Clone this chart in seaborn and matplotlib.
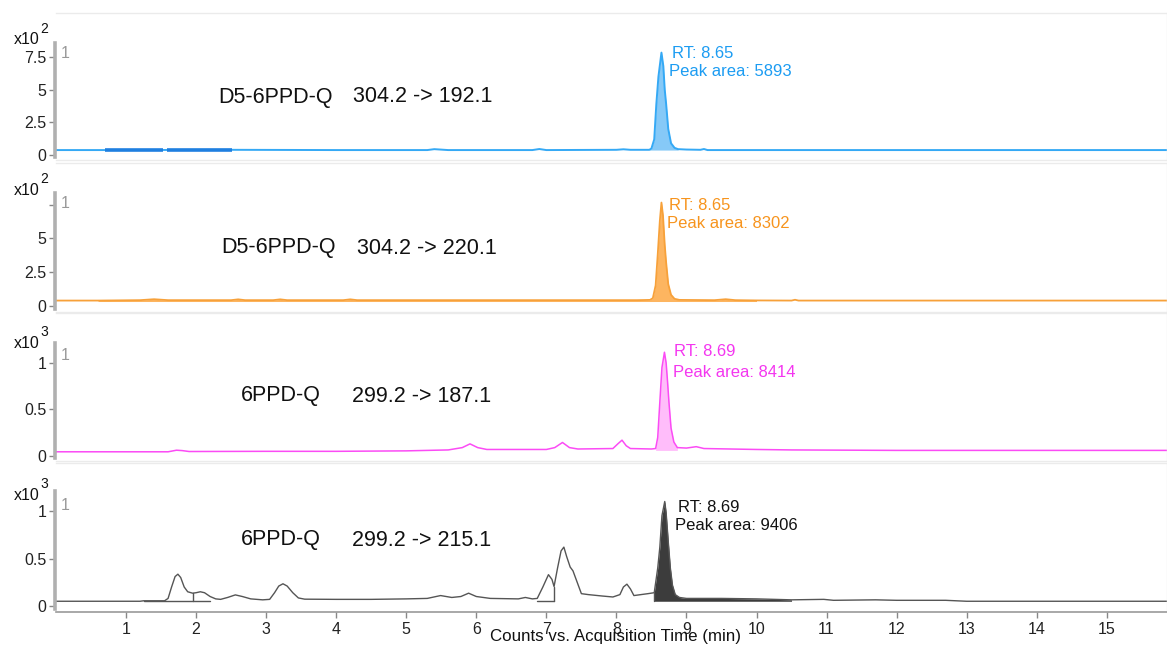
import matplotlib
matplotlib.use("Agg")
import matplotlib.pyplot as plt
import seaborn as sns
import numpy as np

# ---------------- data ----------------
x_ticks = list(range(1, 16))

# Panel 1: D5-6PPD-Q 304.2 -> 192.1 (x10^2 counts)
blue_t = [0.0, 1.0, 2.5, 4.0, 5.3, 5.4, 5.6, 6.8, 6.9, 7.0, 8.0, 8.1, 8.2, 8.40, 8.47, 8.50, 8.54, 8.57,
          8.60, 8.643, 8.67, 8.69, 8.71, 8.74, 8.78, 8.83, 8.88, 9.0, 9.2, 9.25, 9.3, 10.0, 12.0, 15.87]
blue_y = [0.38, 0.38, 0.40, 0.38, 0.38, 0.45, 0.38, 0.38, 0.46, 0.38, 0.40, 0.44, 0.40, 0.40, 0.40, 0.5, 1.2, 3.9,
          6.0, 7.84, 6.8, 5.0, 3.9, 2.0, 0.9, 0.55, 0.45, 0.42, 0.40, 0.46, 0.38, 0.38, 0.38, 0.38]
blue_marks = [(0.70, 1.53), (1.59, 2.51)]

# Panel 2: D5-6PPD-Q 304.2 -> 220.1 (x10^2 counts)
orange_t = [0.0, 0.6, 1.2, 1.4, 1.6, 2.5, 2.6, 2.7, 3.1, 3.2, 3.3, 4.1, 4.2, 4.3, 5.0, 6.0, 7.0, 8.0, 8.3, 8.48,
            8.52, 8.56, 8.59, 8.62, 8.643, 8.665, 8.69, 8.71, 8.74, 8.78, 8.83, 8.9, 9.4, 9.56, 9.7, 10.0,
            10.5, 10.55, 10.6, 12.0, 15.87]
orange_y = [0.37, 0.37, 0.40, 0.47, 0.40, 0.40, 0.46, 0.40, 0.40, 0.46, 0.40, 0.40, 0.46, 0.40, 0.40, 0.40, 0.40,
            0.40, 0.40, 0.42, 0.55, 1.5, 3.8, 6.3, 7.66, 6.7, 4.5, 3.2, 1.6, 0.8, 0.5, 0.42, 0.40, 0.47, 0.40,
            0.38, 0.37, 0.43, 0.37, 0.37, 0.37]

# Panel 3: 6PPD-Q 299.2 -> 187.1 (x10^3 counts)
mag_t = [0.0, 1.6, 1.72, 1.8, 1.9, 3.0, 4.0, 5.0, 5.6, 5.8, 5.91, 6.02, 6.15, 7.0, 7.12, 7.23, 7.33, 7.45, 7.95,
         8.02, 8.08, 8.14, 8.2, 8.5, 8.56, 8.59, 8.62, 8.65, 8.686, 8.71, 8.73, 8.75, 8.78, 8.82, 8.87, 9.0,
         9.14, 9.25, 10.0, 10.5, 12.0, 15.87]
mag_y = [0.045, 0.045, 0.062, 0.058, 0.048, 0.05, 0.05, 0.055, 0.065, 0.09, 0.13, 0.09, 0.07, 0.07, 0.09, 0.145,
         0.09, 0.075, 0.08, 0.13, 0.17, 0.11, 0.08, 0.075, 0.08, 0.2, 0.58, 0.95, 1.115, 1.0, 0.8, 0.58, 0.3,
         0.15, 0.09, 0.085, 0.10, 0.08, 0.07, 0.065, 0.06, 0.06]

# Panel 4: 6PPD-Q 299.2 -> 215.1 (x10^3 counts)
blk_t = [0.0, 1.2, 1.25, 1.55, 1.60, 1.65, 1.70, 1.74, 1.78, 1.83, 1.88, 1.95, 2.0, 2.06, 2.12, 2.2, 2.28, 2.35,
         2.45, 2.56, 2.66, 2.78, 2.95, 3.05, 3.12, 3.18, 3.24, 3.30, 3.38, 3.46, 3.55, 4.0, 4.5, 5.0, 5.3,
         5.49, 5.65, 5.78, 5.89, 6.0, 6.2, 6.6, 6.7, 6.8, 6.87, 6.95, 7.03, 7.08, 7.11, 7.16, 7.21, 7.25,
         7.29, 7.34, 7.38, 7.44, 7.5, 7.6, 7.8, 7.95, 8.05, 8.1, 8.15, 8.2, 8.25, 8.35, 8.45, 8.54, 8.59,
         8.62, 8.65, 8.69, 8.71, 8.74, 8.77, 8.80, 8.84, 8.9, 9.0, 9.5, 10.0, 10.5, 10.96, 11.1, 11.7, 12.0,
         12.7, 13.0, 15.87]
blk_y = [0.05, 0.05, 0.055, 0.055, 0.08, 0.2, 0.31, 0.335, 0.3, 0.2, 0.15, 0.135, 0.14, 0.15, 0.14, 0.1, 0.075,
         0.07, 0.09, 0.117, 0.1, 0.075, 0.065, 0.07, 0.14, 0.21, 0.234, 0.21, 0.14, 0.085, 0.072, 0.07, 0.07,
         0.075, 0.08, 0.11, 0.09, 0.10, 0.135, 0.10, 0.08, 0.075, 0.09, 0.075, 0.08, 0.2, 0.33, 0.28, 0.205,
         0.4, 0.58, 0.62, 0.52, 0.41, 0.37, 0.25, 0.13, 0.12, 0.105, 0.095, 0.12, 0.2, 0.23, 0.18, 0.11,
         0.12, 0.13, 0.14, 0.4, 0.62, 0.95, 1.10, 0.98, 0.68, 0.4, 0.22, 0.12, 0.09, 0.08, 0.08, 0.075,
         0.065, 0.07, 0.06, 0.065, 0.06, 0.06, 0.05, 0.05]
blk_drops = [(1.95, 0.135), (7.11, 0.205), (8.54, 0.14)]

# ---------------- style ----------------
sns.set_theme(style="white")
plt.rcParams["font.family"] = ["Liberation Sans", "DejaVu Sans"]

W, H = 1167, 645
fig = plt.figure(figsize=(W / 100, H / 100), dpi=100)

def frac_box(top_px, bot_px, left_px=56, right_px=1167):
    return [left_px / W, 1 - bot_px / H, (right_px - left_px) / W, (bot_px - top_px) / H]

panels = [
    dict(box=(13, 160), ylim=(-0.38, 10.87), yt=[0, 2.5, 5, 7.5], ytl=["0", "2.5", "5", "7.5"], exp="2",
         sp=(-0.15, 8.55)),
    dict(box=(163, 312), ylim=(-0.48, 10.6), yt=[0, 2.5, 5, 7.5], ytl=["0", "2.5", "5", ""], exp="2",
         sp=(-0.25, 8.36)),
    dict(box=(313, 461), ylim=(-0.054, 1.537), yt=[0, 0.5, 1], ytl=["0", "0.5", "1"], exp="3",
         sp=(-0.02, 1.215)),
    dict(box=(463, 612), ylim=(-0.063, 1.505), yt=[0, 0.5, 1], ytl=["0", "0.5", "1"], exp="3",
         sp=(-0.03, 1.21)),
]

axes = []
for i, p in enumerate(panels):
    ax = fig.add_axes(frac_box(*p["box"]))
    ax.set_xlim(0, 15.86)
    ax.set_ylim(*p["ylim"])
    ax.set_yticks(p["yt"])
    ax.set_yticklabels(p["ytl"])
    ax.set_xticks(x_ticks)
    for s in ["top", "right", "bottom"]:
        ax.spines[s].set_color("#ebebeb")
        ax.spines[s].set_linewidth(1.0)
    ax.spines["left"].set_color("#b0b0b0")
    ax.spines["left"].set_linewidth(2.6)
    ax.spines["left"].set_bounds(*p["sp"])
    ax.spines["left"].set_position(("outward", 1))
    ax.tick_params(axis="y", left=True, length=4, width=1, color="#888888", labelsize=11.5,
                   labelcolor="#222222", pad=2)
    if i < 3:
        ax.tick_params(axis="x", bottom=False, labelbottom=False)
    else:
        ax.spines["bottom"].set_color("#9a9a9a")
        ax.spines["bottom"].set_linewidth(1.2)
        ax.tick_params(axis="x", bottom=True, length=4, width=1, color="#888888", labelsize=11.5,
                       labelcolor="#222222", pad=3)
    ax.set_xlabel("")
    ax.set_ylabel("")
    axes.append(ax)

# ---- panel 1 (blue)
ax = axes[0]
bt, by = np.array(blue_t), np.array(blue_y)
m = (bt >= 8.47) & (bt <= 8.88)
ax.fill_between(bt[m], 0.38, by[m], color="#86c9f7", lw=0)
sns.lineplot(x=blue_t, y=blue_y, ax=ax, color="#35a9f5", lw=1.4, estimator=None, sort=False)
for a, b in blue_marks:
    ax.plot([a, b], [0.40, 0.40], color="#1f7fe0", lw=2.6, solid_capstyle="butt")

# ---- panel 2 (orange)
ax = axes[1]
ot, oy = np.array(orange_t), np.array(orange_y)
m = (ot >= 0.6) & (ot <= 10.0)
ax.fill_between(ot[m], 0.30, oy[m], color="#fdb560", lw=0)
sns.lineplot(x=orange_t, y=orange_y, ax=ax, color="#f7a13a", lw=1.3, estimator=None, sort=False)

# ---- panel 3 (magenta)
ax = axes[2]
mt, my = np.array(mag_t), np.array(mag_y)
m = (mt >= 8.56) & (mt <= 8.87)
ax.fill_between(mt[m], 0.06, my[m], color="#ffbdfa", lw=0)
sns.lineplot(x=mag_t, y=mag_y, ax=ax, color="#fb4bf5", lw=1.1, estimator=None, sort=False)

# ---- panel 4 (black)
ax = axes[3]
kt, ky = np.array(blk_t), np.array(blk_y)
m = (kt >= 8.54) & (kt <= 10.5)
ax.fill_between(kt[m], 0.05, ky[m], color="#3c3c3c", lw=0)
sns.lineplot(x=blk_t, y=blk_y, ax=ax, color="#555555", lw=1.0, estimator=None, sort=False)
for t0, y0 in blk_drops:
    ax.plot([t0, t0], [0.055, y0], color="#555555", lw=1.0)
ax.plot([1.25, 2.2], [0.055, 0.055], color="#555555", lw=1.0)
ax.plot([6.87, 7.11], [0.055, 0.055], color="#555555", lw=1.0)

# ---------------- text ----------------
def ftext(px, py, s, **kw):
    fig.text(px / W, 1 - py / H, s, **kw)

names = [("D5-6PPD-Q", "304.2 -> 192.1", 218, 353, 97),
         ("D5-6PPD-Q", "304.2 -> 220.1", 221, 357, 248),
         ("6PPD-Q", "299.2 -> 187.1", 241, 352, 396),
         ("6PPD-Q", "299.2 -> 215.1", 241, 352, 540)]
for n, tr, x1, x2, yy in names:
    ftext(x1, yy, n, fontsize=15.5, color="#111111", va="center", ha="left")
    ftext(x2, yy, tr, fontsize=15.5, color="#111111", va="center", ha="left")

peaks = [("RT: 8.65", "Peak area: 5893", "#1c9cf2", 672, 53, 669, 72),
         ("RT: 8.65", "Peak area: 8302", "#f7941d", 669, 205, 667, 223),
         ("RT: 8.69", "Peak area: 8414", "#f436f0", 674, 352, 673, 372),
         ("RT: 8.69", "Peak area: 9406", "#111111", 678, 507, 675, 525)]
for rt, pa, c, x1, y1, x2, y2 in peaks:
    ftext(x1, y1, rt, fontsize=12, color=c, va="center", ha="left")
    ftext(x2, y2, pa, fontsize=12, color=c, va="center", ha="left")

exp_pos = [40, 190, 343, 495]
one_pos = [54, 204, 355, 506]
for p, yy, y1 in zip(panels, exp_pos, one_pos):
    ftext(40, yy, "x10", fontsize=11.5, color="#111111", va="center", ha="right")
    ftext(40.5, yy - 11, p["exp"], fontsize=10, color="#111111", va="center", ha="left")
    ftext(61, y1, "1", fontsize=11.5, color="#999999", va="center", ha="left")

ftext(615, 636, "Counts vs. Acquisition Time (min)", fontsize=12.2, color="#111111", va="center", ha="center")

fig.savefig("out.png", dpi=100)
